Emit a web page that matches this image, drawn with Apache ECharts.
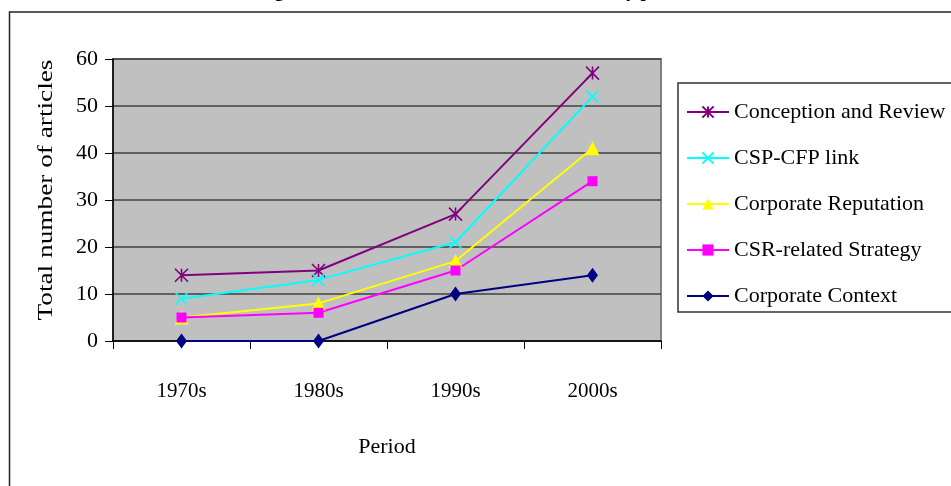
<!DOCTYPE html>
<html>
<head>
<meta charset="utf-8">
<script src="https://cdn.jsdelivr.net/npm/echarts@6/dist/echarts.min.js"></script>
<style>
html,body{margin:0;padding:0;background:#fff;}
#chart{width:951px;height:486px;}
</style>
</head>
<body>
<div id="chart"></div>
<script>
const titleText = 'Figure 2: Number of articles in each stream by period';
const categories = ['1970s', '1980s', '1990s', '2000s'];
const seriesNames = ['Conception and Review', 'CSP-CFP link', 'Corporate Reputation', 'CSR-related Strategy', 'Corporate Context'];
const conceptionReview = [14, 15, 27, 57];
const cspCfpLink = [9, 13, 21, 52];
const corporateReputation = [5, 8, 17, 41];
const csrStrategy = [5, 6, 15, 34];
const corporateContext = [0, 0, 10, 14];
const yTicks = { min: 0, max: 60, interval: 10 };
const xAxisName = 'Period';
const yAxisName = 'Total number of articles';

const FONT = 'Liberation Serif';
const ASTERISK = 'path://M5,0L5,10M0,0L10,10M0,10L10,0';
const CROSS = 'path://M0,0L10,10M0,10L10,0';

function mk(name, data, color, symbol, size) {
  return {
    name: name, type: 'line', data: data,
    symbol: symbol, symbolSize: size,
    showSymbol: true,
    lineStyle: { color: color, width: 2 },
    itemStyle: { color: color, borderColor: color, borderWidth: (symbol.indexOf('path') === 0 ? 1.6 : 0) },
    emphasis: { disabled: true },
    animation: false
  };
}

const chart = echarts.init(document.getElementById('chart'));
chart.setOption({
  animation: false,
  backgroundColor: '#ffffff',
  title: {
    text: titleText, left: 'center', top: -22,
    textStyle: { fontFamily: FONT, fontSize: 19, fontWeight: 'bold', color: '#000' }
  },
  graphic: [
    { type: 'rect', shape: { x: 9.5, y: 12, width: 1200, height: 800 },
      style: { fill: 'none', stroke: '#222', lineWidth: 1.5 }, silent: true, z: -1 },
    { type: 'rect', shape: { x: 678, y: 83, width: 400, height: 229 },
      style: { fill: '#fff', stroke: '#333', lineWidth: 1.5 }, silent: true, z: -1 },
    { type: 'text', x: 46, y: 190, rotation: Math.PI / 2, scaleX: 1.24,
      style: { text: yAxisName, font: '22px "Liberation Serif"', fill: '#000', align: 'center', verticalAlign: 'middle' },
      silent: true }
  ],
  legend: {
    orient: 'vertical', left: 686, top: 101, padding: 0,
    itemWidth: 42, itemHeight: 14, itemGap: 24,
    data: seriesNames,
    textStyle: { fontFamily: FONT, fontSize: 22, color: '#000', lineHeight: 22 },
    selectedMode: false
  },
  grid: {
    left: 113, top: 59, width: 548, height: 282,
    show: true, backgroundColor: '#c0c0c0', borderColor: '#808080', borderWidth: 2
  },
  xAxis: {
    type: 'category', data: categories, boundaryGap: true,
    name: xAxisName, nameLocation: 'middle', nameGap: 95,
    nameTextStyle: { fontFamily: FONT, fontSize: 22, color: '#000' },
    axisLine: { lineStyle: { color: '#000', width: 1.5 } },
    axisTick: { show: true, length: 8, alignWithLabel: false, lineStyle: { color: '#000' } },
    axisLabel: { fontFamily: FONT, fontSize: 21, color: '#000', margin: 40 },
    splitLine: { show: false }
  },
  yAxis: {
    type: 'value', min: yTicks.min, max: yTicks.max, interval: yTicks.interval,
    axisLine: { show: true, lineStyle: { color: '#000', width: 1.5 } },
    axisTick: { show: true, length: 8, lineStyle: { color: '#000' } },
    axisLabel: { fontFamily: FONT, fontSize: 22, color: '#000', margin: 15 },
    splitLine: { show: true, lineStyle: { color: '#404040', width: 1.6 } }
  },
  series: [
    mk(seriesNames[0], conceptionReview, '#800080', ASTERISK, 13),
    mk(seriesNames[1], cspCfpLink, '#00ffff', CROSS, 12),
    mk(seriesNames[2], corporateReputation, '#ffff00', 'triangle', 14),
    mk(seriesNames[3], csrStrategy, '#ff00ff', 'rect', 10),
    mk(seriesNames[4], corporateContext, '#000080', 'diamond', [11, 15])
  ]
});
</script>
</body>
</html>
